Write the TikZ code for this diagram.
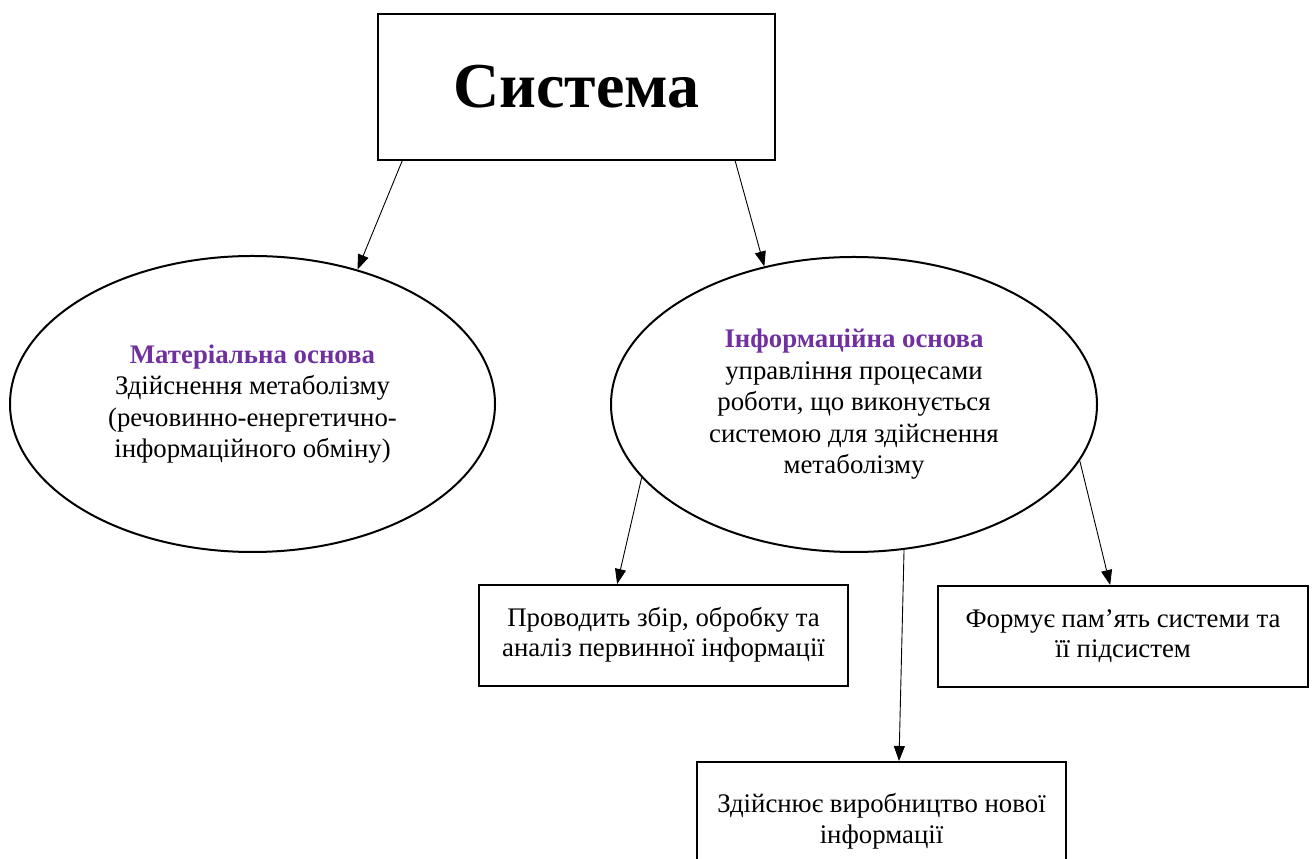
\documentclass[tikz,border=0pt]{standalone}
\usepackage{fontspec}
\setmainfont{Liberation Serif}
\usetikzlibrary{arrows.meta, shapes.geometric}

\definecolor{headpurple}{HTML}{7030A0}

\begin{document}
\begin{tikzpicture}[
    x=1pt, y=1pt,
    font=\fontsize{26.8}{31.5}\selectfont,
    >={Triangle[length=15pt,width=11pt]},
    titlebox/.style={rectangle, draw=black, line width=2pt, minimum width=397pt, minimum height=146pt, inner sep=0pt},
    basis/.style   ={ellipse, draw=black, line width=2pt, minimum width=485pt, minimum height=296pt, align=center, inner sep=0pt},
    task/.style    ={rectangle, draw=black, line width=2pt, minimum width=369pt, minimum height=101pt, align=center, inner sep=0pt,
                     font=\fontsize{26.8}{30}\selectfont},
    arrow/.style   ={->, line width=0.9pt},
]
\useasboundingbox (0,0) rectangle (1314,859);

%==================== TOP ====================

\node[titlebox] (sys) at (576.5,772) {\raisebox{-4pt}{\fontsize{64}{70}\selectfont\bfseries Система}};

%==================== TWO BASES ====================

\node[basis] (mat) at (252.5,455)
  {{\bfseries\color{headpurple}Матеріальна основа}\\Здійснення метаболізму\\(речовинно-енергетично-\\інформаційного обміну)};

\node[basis, minimum width=486pt, minimum height=295pt] (inf) at (854,454.5)
  {{\bfseries\color{headpurple}Інформаційна основа}\\управління процесами\\роботи, що виконується\\системою для здійснення\\метаболізму};

%==================== TASKS ====================

\node[task] (collect) at (663.5,223.5) {\raisebox{-3pt}{\begin{tabular}{@{}c@{}}Проводить збір, обробку та\\аналіз первинної інформації\end{tabular}}};
\node[task, minimum width=370pt] (memory) at (1123,222.5) {\raisebox{-3pt}{\begin{tabular}{@{}c@{}}Формує пам’ять системи та\\її підсистем\end{tabular}}};
\node[task, minimum height=120pt] (produce) at (881.5,37)
  {\raisebox{22pt}{\begin{tabular}{@{}c@{}}Здійснює виробництво нової\\інформації\end{tabular}}};

%==================== ARROWS ====================

\draw[arrow] (sys.203.7) -- (mat.52.5);
\draw[arrow] (sys.335.1) -- (inf.123.2);
\draw[arrow] (inf.199.2) -- (collect.132);
\draw[arrow] (inf.346.7) -- (memory.104.4);
\draw[arrow] (inf.289.8) -- (produce.74.6);

\end{tikzpicture}
\end{document}
